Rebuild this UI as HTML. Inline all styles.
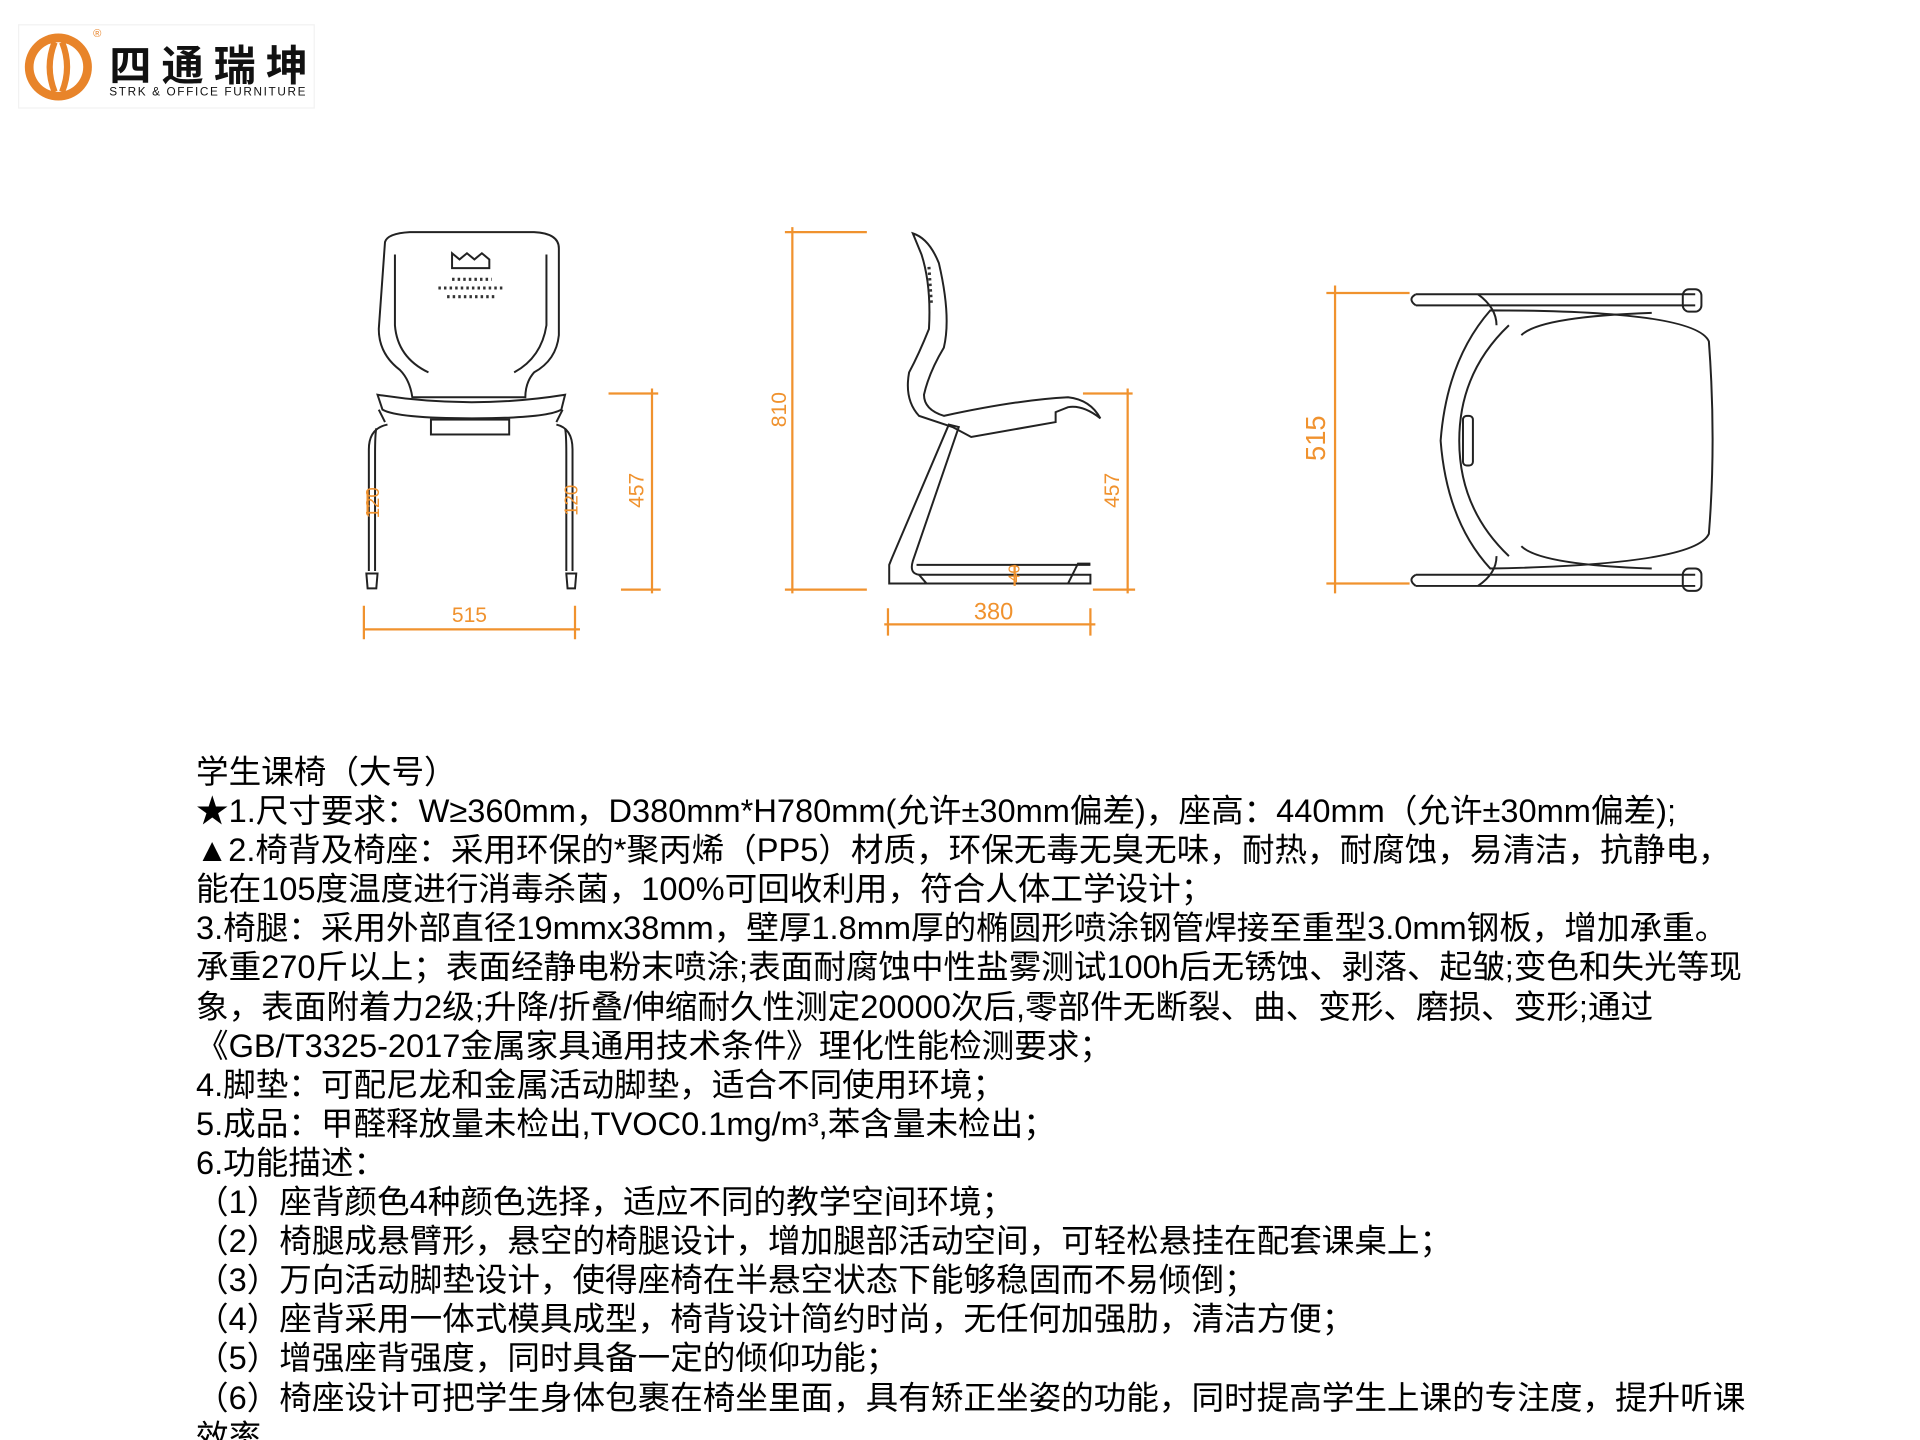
<!DOCTYPE html>
<html><head><meta charset="utf-8"><style>
html,body{margin:0;padding:0;background:#fff;width:1920px;height:1440px;overflow:hidden;position:relative}
svg{position:absolute;left:0;top:0}
.t{position:absolute;left:196px;top:752px;font-family:"Liberation Sans","Noto Sans CJK SC",sans-serif;font-size:32.6px;line-height:39.1px;color:#000;white-space:nowrap;letter-spacing:0px}
</style></head><body>
<svg width="1920" height="1440" viewBox="0 0 1546 1160" preserveAspectRatio="none" font-family="Liberation Sans, sans-serif">
<rect x="15" y="20" width="238" height="67" fill="#fff" stroke="#f2f2f2"/>
<circle cx="47" cy="54" r="27" fill="#e8842a"/>
<circle cx="47" cy="54" r="20" fill="#fff"/>
<path d="M44 34 Q36 54 44 74 M50 34 Q58 54 50 74" stroke="#e8842a" stroke-width="5" fill="none"/>
<text x="75" y="30" font-size="9" fill="#e8842a">®</text>
<text x="88" y="65" font-size="34" font-weight="bold" font-family="Noto Sans CJK SC, sans-serif" fill="#111" textLength="160">四通瑞坤</text>
<text x="88" y="77" font-size="9.5" fill="#111" textLength="158">STRK &amp; OFFICE FURNITURE</text>
<g fill="none" stroke="#222" stroke-width="1.6">
<path d="M310 195 Q312 188 330 187 L430 187 Q450 188 450 200 L450 270 Q448 290 430 300 Q423 308 423 320 L332 320 Q330 306 322 298 Q305 285 305 265 Z"/>
<path d="M318 205 L318 262 Q320 288 345 300 M440 205 L440 262 Q436 288 414 300"/>
<path d="M364 204 L370 209 L376 204 L382 209 L388 204 L394 209 L394 216 L364 216 Z"/>
<path d="M304 318 Q380 330 455 318 L452 330 Q440 337 380 337 Q320 337 308 330 Z"/>
<path d="M305 330 L310 340 M453 330 L448 340"/>
<path d="M312 342 Q297 345 297 362 L297 460 M448 342 Q461 345 461 362 L461 460"/>
<path d="M303 345 Q302 350 302 365 L302 460 M455 345 Q456 350 456 365 L456 460"/>
<rect x="347" y="338" width="63" height="12"/>
<path d="M295 462 L304 462 L303 474 L296 474 Z M456 462 L464 462 L463 474 L457 474 Z"/>
<path d="M735 188 Q748 192 756 212 Q766 255 760 280 Q748 300 744 318 Q744 330 760 335 Q820 322 860 320 Q878 322 886 337 Q872 326 860 328 L850 332 L850 340 L782 352 L767 344 L740 335 Q728 322 732 300 Q740 285 748 265 Q750 230 742 205 Z"/>
<path d="M764 342 L772 344 L735 452 Q732 462 740 463 L878 463 L878 470 L716 470 L716 455 L718 450 Z"/>
<path d="M740 463 L746 470 M878 454 L868 454 L860 470"/>
<path d="M738 455 L878 455"/>
<path d="M1140 237 L1365 237 M1140 246 L1365 246 M1140 463 L1365 463 M1140 472 L1365 472"/>
<rect x="1355" y="233" width="15" height="18" rx="5"/>
<rect x="1355" y="458" width="15" height="18" rx="5"/>
<path d="M1140 237 Q1133 241 1140 246 M1140 463 Q1133 467 1140 472"/>
<path d="M1200 250 Q1365 250 1376 275 Q1382 355 1376 430 Q1365 455 1200 458 Q1165 420 1160 355 Q1165 290 1200 250 Z"/>
<path d="M1215 262 Q1175 300 1175 355 Q1175 410 1215 448"/>
<path d="M1225 270 Q1240 255 1330 252 M1225 440 Q1240 455 1330 458"/>
<path d="M1190 237 Q1205 248 1205 262 M1190 472 Q1205 462 1205 448"/>
<rect x="1178" y="335" width="8" height="40" rx="3"/>
</g>
<g fill="none" stroke="#333" stroke-width="2.5" stroke-dasharray="2 2.5">
<path d="M364 225 L396 225 M353 232 L406 232 M360 239 L400 239"/>
<path d="M748 215 L750 245"/>
</g>
<g stroke="#f0922e" stroke-width="1.8" fill="none">
<path d="M525 313 L525 478 M490 317 L530 317 M500 475 L532 475"/>
<path d="M293 507 L467 507 M293 488 L293 515 M463 488 L463 515"/>
<path d="M638 183 L638 478 M632 187 L698 187 M632 475 L698 475"/>
<path d="M908 313 L908 478 M872 317 L912 317 M880 475 L914 475"/>
<path d="M712 503 L882 503 M715 490 L715 512 M878 490 L878 512"/>
<path d="M1075 230 L1075 478 M1068 236 L1135 236 M1068 470 L1135 470"/>
<path d="M817 455 L817 472 M296 395 L296 415"/>
</g>
<g fill="#f0922e" font-size="17">
<text x="378" y="501" text-anchor="middle">515</text>
<text x="800" y="499" text-anchor="middle" font-size="19">380</text>
<text transform="translate(518,395) rotate(-90)" text-anchor="middle">457</text>
<text transform="translate(901,395) rotate(-90)" text-anchor="middle">457</text>
<text transform="translate(633,330) rotate(-90)" text-anchor="middle">810</text>
<text transform="translate(1067,353) rotate(-90)" text-anchor="middle" font-size="22">515</text>
<text transform="translate(305,405) rotate(-90)" text-anchor="middle" font-size="15">120</text>
<text transform="translate(465,403) rotate(-90)" text-anchor="middle" font-size="15">120</text>
<text transform="translate(821,462) rotate(-90)" text-anchor="middle" font-size="13">40</text>
</g>
</svg>
<div class="t">学生课椅（大号）<br>★1.尺寸要求：W≥360mm，D380mm*H780mm(允许±30mm偏差)，座高：440mm（允许±30mm偏差);<br>▲2.椅背及椅座：采用环保的*聚丙烯（PP5）材质，环保无毒无臭无味，耐热，耐腐蚀，易清洁，抗静电，<br>能在105度温度进行消毒杀菌，100%可回收利用，符合人体工学设计；<br>3.椅腿：采用外部直径19mmx38mm，壁厚1.8mm厚的椭圆形喷涂钢管焊接至重型3.0mm钢板，增加承重。<br>承重270斤以上；表面经静电粉末喷涂;表面耐腐蚀中性盐雾测试100h后无锈蚀、剥落、起皱;变色和失光等现<br>象，表面附着力2级;升降/折叠/伸缩耐久性测定20000次后,零部件无断裂、曲、变形、磨损、变形;通过<br>《GB/T3325-2017金属家具通用技术条件》理化性能检测要求；<br>4.脚垫：可配尼龙和金属活动脚垫，适合不同使用环境；<br>5.成品：甲醛释放量未检出,TVOC0.1mg/m³,苯含量未检出；<br>6.功能描述：<br>（1）座背颜色4种颜色选择，适应不同的教学空间环境；<br>（2）椅腿成悬臂形，悬空的椅腿设计，增加腿部活动空间，可轻松悬挂在配套课桌上；<br>（3）万向活动脚垫设计，使得座椅在半悬空状态下能够稳固而不易倾倒；<br>（4）座背采用一体式模具成型，椅背设计简约时尚，无任何加强肋，清洁方便；<br>（5）增强座背强度，同时具备一定的倾仰功能；<br>（6）椅座设计可把学生身体包裹在椅坐里面，具有矫正坐姿的功能，同时提高学生上课的专注度，提升听课<br>效率。</div>
</body></html>
